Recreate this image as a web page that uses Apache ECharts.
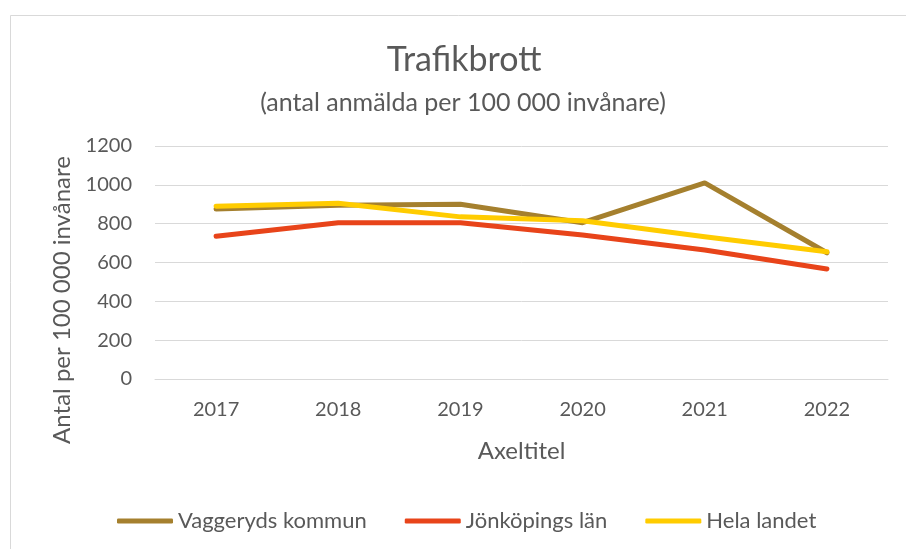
<!DOCTYPE html>
<html>
<head>
<meta charset="utf-8">
<script src="https://cdn.jsdelivr.net/npm/echarts@6/dist/echarts.min.js"></script>
<style>
  html, body { margin: 0; padding: 0; background: #fff; }
  #main { width: 906px; height: 549px; }
</style>
</head>
<body>
<div id="main"></div>
<script>
var years = ['2017', '2018', '2019', '2020', '2021', '2022'];
var vaggeryd = [875, 895, 900, 805, 1010, 650];
var jonkoping = [735, 805, 805, 742, 664, 567];
var helaLandet = [890, 905, 835, 815, 733, 655];
var yTicks = [0, 200, 400, 600, 800, 1000, 1200];

var font = 'Lato';
var grey = '#595959';

var myChart = echarts.init(document.getElementById('main'));

function line(name, data, color) {
  return {
    name: name,
    type: 'line',
    data: data,
    symbol: 'none',
    lineStyle: { color: color, width: 5, cap: 'round', join: 'round' },
    itemStyle: { color: color }
  };
}

var options = {
  backgroundColor: '#fff',
  animation: false,
  textStyle: { fontFamily: font },
  graphic: [{
    type: 'rect',
    shape: { x: 10.5, y: 15.5, width: 1000, height: 1000 },
    style: { fill: 'none', stroke: '#d9d9d9', lineWidth: 1 },
    silent: true
  }],
  title: [{
    text: 'Trafikbrott',
    left: 459,
    textAlign: 'center',
    top: 38,
    textStyle: { fontFamily: font, fontSize: 34, fontWeight: 'normal', color: grey }
  }, {
    text: '(antal anmälda per 100 000 invånare)',
    left: 458,
    textAlign: 'center',
    top: 85,
    textStyle: { fontFamily: font, fontSize: 25, fontWeight: 'normal', color: grey }
  }],
  legend: {
    top: 505,
    left: 112,
    itemWidth: 56,
    itemHeight: 5,
    itemGap: 38,
    icon: 'roundRect',
    textStyle: { fontFamily: font, fontSize: 22, color: grey },
    data: ['Vaggeryds kommun', 'Jönköpings län', 'Hela landet']
  },
  grid: { left: 155, right: 18, top: 146, bottom: 170 },
  xAxis: {
    type: 'category',
    data: years,
    name: 'Axeltitel',
    nameLocation: 'middle',
    nameGap: 60,
    nameTextStyle: { fontFamily: font, fontSize: 24, color: grey },
    axisLine: { show: true, lineStyle: { color: '#d9d9d9', width: 1 } },
    axisTick: { show: false },
    axisLabel: { color: grey, fontSize: 20, fontFamily: font, margin: 21 }
  },
  yAxis: {
    type: 'value',
    min: yTicks[0],
    max: yTicks[yTicks.length - 1],
    interval: 200,
    name: 'Antal per 100 000 invånare',
    nameLocation: 'middle',
    nameGap: 80,
    nameTextStyle: { fontFamily: font, fontSize: 24, color: grey, padding: [0, 75, 0, 0] },
    axisLine: { show: false },
    axisTick: { show: false },
    axisLabel: {
      color: grey, fontSize: 20, fontFamily: font, margin: 23,
      formatter: function (v) { return String(v); }
    },
    splitLine: { lineStyle: { color: '#d9d9d9', width: 1 } }
  },
  series: [
    line('Vaggeryds kommun', vaggeryd, '#a5802e'),
    line('Jönköpings län', jonkoping, '#e8441a'),
    line('Hela landet', helaLandet, '#ffcc00')
  ]
};

myChart.setOption(options);
</script>
</body>
</html>
